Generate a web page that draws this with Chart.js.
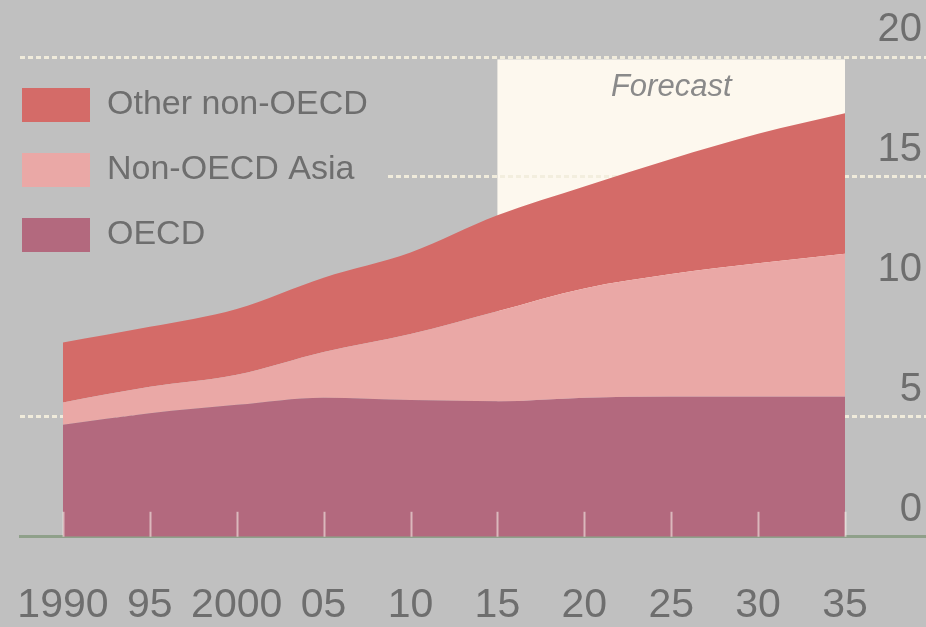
<!DOCTYPE html>
<html>
<head>
<meta charset="utf-8">
<script src="https://cdn.jsdelivr.net/npm/chart.js@4.4.0/dist/chart.umd.min.js"></script>
<style>
  html, body { margin: 0; padding: 0; background: #c0c0c0; }
  #wrap { width: 926px; height: 627px; position: relative; overflow: hidden; }
</style>
</head>
<body>
<div id="wrap"><canvas id="c"></canvas></div>
<script>
// ---- Data ----
const YEARS = [1990, 1995, 2000, 2005, 2010, 2015, 2020, 2025, 2030, 2035];
const X_LABELS = ['1990', '95', '2000', '05', '10', '15', '20', '25', '30', '35'];
const OECD = [4.67, 5.15, 5.5, 5.8, 5.7, 5.65, 5.8, 5.85, 5.85, 5.85];
const NON_OECD_ASIA = [0.93, 1.1, 1.25, 1.9, 2.75, 3.75, 4.55, 5.1, 5.55, 5.95];
const OTHER_NON_OECD = [2.5, 2.5, 2.75, 3.1, 3.4, 4.0, 4.25, 4.8, 5.4, 5.85];
const SERIES_NAMES = ['OECD', 'Non-OECD Asia', 'Other non-OECD'];
const Y_TICKS = [0, 5, 10, 15, 20];
const FORECAST_FROM = 2015;
const FORECAST_TO = 2035;
const FORECAST_LABEL = 'Forecast';

// ---- Styles ----
const BG = '#c0c0c0';
const COLORS = ['#b3697e', '#eaa8a6', '#d46b68'];
const FORECAST_BG = '#fdf8ee';
const GRID_COLOR = 'rgba(242,237,220,0.95)';
const BASE_COLOR = '#8fa08a';
const TEXT_COLOR = '#6e6e6e';
const INNER_TICK_COLOR = 'rgba(245,236,230,0.6)';
const INNER_TICK_LEN = 25;
const LEGEND_PAD = 31;
const LEGEND_BOX_H = 34;
const LEGEND_SHIFT = -29;

Chart.defaults.font.family = "'Liberation Sans', Arial, sans-serif";

const toPoints = arr => YEARS.map((x, i) => ({ x, y: arr[i] }));

const forecastPlugin = {
  id: 'forecastBand',
  beforeDraw(chart) {
    const { ctx, chartArea, scales: { x, y } } = chart;
    // legend panel sits in the top-left corner of the plot
    if (chart.legend) {
      chart.legend.left = chartArea.left + LEGEND_SHIFT;
      chart.legend.top = chartArea.top;
      chart.legend.bottom = chartArea.bottom;
    }
    const x0 = x.getPixelForValue(FORECAST_FROM);
    const x1 = x.getPixelForValue(FORECAST_TO);
    const top = y.getPixelForValue(19.9);
    ctx.save();
    ctx.fillStyle = FORECAST_BG;
    ctx.fillRect(x0, top, x1 - x0, chartArea.bottom - top);
    ctx.fillStyle = '#8a8a8a';
    ctx.font = "italic 31px 'Liberation Sans', Arial, sans-serif";
    ctx.textAlign = 'center';
    ctx.textBaseline = 'middle';
    ctx.fillText(FORECAST_LABEL, (x0 + x1) / 2, y.getPixelForValue(18.75));
    ctx.restore();
  },
  beforeDatasetsDraw(chart) {
    // legend panel hides the grid lines behind it
    const lg = chart.legend;
    if (!lg || !lg.legendHitBoxes || !lg.legendHitBoxes.length) return;
    const { ctx, chartArea } = chart;
    const hb = lg.legendHitBoxes;
    let w = 0;
    hb.forEach(h => { w = Math.max(w, h.width); });
    const right = lg.left + LEGEND_PAD + w + 20;
    const n = hb.length;
    const bottom = lg.top + LEGEND_PAD + n * LEGEND_BOX_H + (n - 1) * LEGEND_PAD + 20;
    ctx.save();
    ctx.fillStyle = BG;
    ctx.fillRect(chartArea.left, chartArea.top + 4, right - chartArea.left, bottom - chartArea.top - 4);
    ctx.restore();
    lg.draw();
  },
  afterDatasetsDraw(chart) {
    const { ctx, chartArea, scales: { x } } = chart;
    ctx.save();
    ctx.strokeStyle = INNER_TICK_COLOR;
    ctx.lineWidth = 2;
    x.ticks.forEach(t => {
      const px = Math.round(x.getPixelForValue(t.value)) + 0.5;
      ctx.beginPath();
      ctx.moveTo(px, chartArea.bottom);
      ctx.lineTo(px, chartArea.bottom - INNER_TICK_LEN);
      ctx.stroke();
    });
    ctx.restore();
  }
};

const datasets = [OECD, NON_OECD_ASIA, OTHER_NON_OECD].map((arr, i) => ({
  label: SERIES_NAMES[i],
  data: toPoints(arr),
  backgroundColor: COLORS[i],
  borderColor: COLORS[i],
  borderWidth: 0,
  pointRadius: 0,
  fill: i === 0 ? 'origin' : '-1',
  cubicInterpolationMode: 'monotone'
}));

new Chart(document.getElementById('c'), {
  type: 'line',
  data: { datasets },
  plugins: [forecastPlugin],
  options: {
    responsive: true,
    maintainAspectRatio: false,
    animation: false,
    layout: { padding: { top: 57, left: 20, right: -8, bottom: 0 } },
    plugins: {
      tooltip: { enabled: false },
      legend: {
        position: 'chartArea',
        align: 'start',
        reverse: true,
        labels: {
          boxWidth: 68,
          boxHeight: LEGEND_BOX_H,
          padding: LEGEND_PAD,
          color: TEXT_COLOR,
          font: { size: 34 }
        }
      }
    },
    scales: {
      x: {
        type: 'linear',
        min: 1987.53,
        max: 2039.66,
        afterBuildTicks: axis => { axis.ticks = YEARS.map(v => ({ value: v })); },
        grid: { drawOnChartArea: false, drawTicks: true, tickLength: 48, tickColor: 'transparent' },
        border: { display: true, color: BASE_COLOR, width: 3 },
        ticks: {
          autoSkip: false,
          maxRotation: 0,
          minRotation: 0,
          padding: 0,
          color: TEXT_COLOR,
          font: { size: 41, lineHeight: 1.03 },
          callback: v => X_LABELS[YEARS.indexOf(v)]
        }
      },
      y: {
        position: 'right',
        stacked: true,
        min: 0,
        max: 20,
        afterBuildTicks: axis => { axis.ticks = Y_TICKS.map(v => ({ value: v })); },
        grid: {
          drawTicks: false,
          lineWidth: 3,
          color: c => (c.tick && (c.tick.value === 0 || c.tick.value === 10)) ? 'transparent' : GRID_COLOR
        },
        border: { display: false, dash: [5, 3] },
        ticks: {
          mirror: true,
          padding: -4,
          labelOffset: -27,
          color: TEXT_COLOR,
          font: { size: 40 }
        }
      }
    }
  }
});
</script>
</body>
</html>
